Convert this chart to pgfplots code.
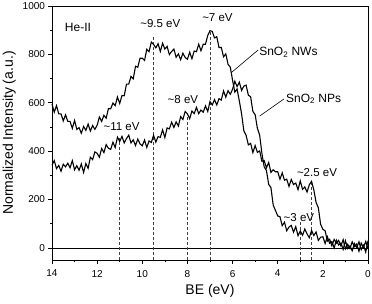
\documentclass[border=0pt]{standalone}
\usepackage{pgfplots}
\pgfplotsset{compat=1.18}
\usepackage{pgfplotstable}
\usepackage{fontspec}
\setmainfont{Liberation Sans}

\pgfplotstableread{
x y
14.0 595
13.9 561
13.8 588
13.7 554
13.6 554
13.5 525
13.4 550
13.3 523
13.2 523
13.1 494
13.0 527
12.9 490
12.8 497
12.7 474
12.6 502
12.5 486
12.4 512
12.3 483
12.2 506
12.1 490
12.0 507
11.9 541
11.8 523
11.7 548
11.6 536
11.5 576
11.4 575
11.3 599
11.2 588
11.1 624
11.0 597
10.9 630
10.8 629
10.7 677
10.6 677
10.5 709
10.4 699
10.3 751
10.2 747
10.1 784
10.0 784
9.9 775
9.8 821
9.7 811
9.6 851
9.5 841
9.4 827
9.3 844
9.2 812
9.1 846
9.0 822
8.9 833
8.8 799
8.7 812
8.6 822
8.5 788
8.4 802
8.3 778
8.2 805
8.1 787
8.0 780
7.9 809
7.8 782
7.7 814
7.6 811
7.5 842
7.4 815
7.3 842
7.2 842
7.1 878
7.0 898
6.9 895
6.8 868
6.7 873
6.6 828
6.5 829
6.4 790
6.3 802
6.2 759
6.1 747
6.0 693
5.9 644
5.8 657
5.7 607
5.6 554
5.5 484
5.4 465
5.3 426
5.2 432
5.1 394
5.0 423
4.9 395
4.8 401
4.7 358
4.6 361
4.5 331
4.4 353
4.3 312
4.2 323
4.1 315
4.0 315
3.9 284
3.8 310
3.7 280
3.6 284
3.5 254
3.4 283
3.3 262
3.2 268
3.1 241
3.0 277
2.9 242
2.8 252
2.7 231
2.6 261
2.5 275
2.4 240
2.3 188
2.2 166
2.1 98
2.0 77
1.9 71
1.8 28
1.7 36
1.6 9
1.5 35
1.4 20
1.3 31
1.2 8
1.1 34
1.0 -4
0.9 15
0.8 -2
0.7 25
0.6 5
0.5 16
0.4 -14
0.3 20
0.2 2
0.1 27
0.0 -5
}\nws

\pgfplotstableread{
x y
14.0 342
13.9 361
13.8 328
13.7 341
13.6 317
13.5 346
13.4 335
13.3 350
13.2 331
13.1 361
13.0 323
12.9 340
12.8 321
12.7 347
12.6 312
12.5 349
12.4 329
12.3 375
12.2 365
12.1 397
12.0 391
11.9 375
11.8 411
11.7 394
11.6 427
11.5 412
11.4 407
11.3 437
11.2 415
11.1 458
11.0 440
10.9 461
10.8 434
10.7 452
10.6 466
10.5 434
10.4 447
10.3 423
10.2 450
10.1 430
10.0 422
9.9 446
9.8 415
9.7 442
9.6 436
9.5 465
9.4 437
9.3 460
9.2 457
9.1 488
9.0 456
8.9 496
8.8 492
8.7 520
8.6 498
8.5 521
8.4 504
8.3 543
8.2 531
8.1 564
8.0 554
7.9 534
7.8 566
7.7 555
7.6 581
7.5 555
7.4 570
7.3 561
7.2 587
7.1 564
7.0 605
6.9 591
6.8 613
6.7 591
6.6 617
6.5 611
6.4 649
6.3 623
6.2 650
6.1 635
6.0 656
5.9 689
5.8 667
5.7 685
5.6 651
5.5 669
5.4 673
5.3 631
5.2 625
5.1 564
5.0 551
4.9 494
4.8 466
4.7 391
4.6 335
4.5 320
4.4 263
4.3 249
4.2 177
4.1 155
4.0 132
3.9 129
3.8 92
3.7 106
3.6 71
3.5 86
3.4 93
3.3 65
3.2 88
3.1 50
3.0 70
2.9 52
2.8 78
2.7 58
2.6 42
2.5 72
2.4 51
2.3 66
2.2 31
2.1 44
2.0 46
1.9 18
1.8 46
1.7 19
1.6 26
1.5 0
1.4 32
1.3 12
1.2 20
1.1 -6
1.0 30
0.9 -3
0.8 8
0.7 -12
0.6 18
0.5 1
0.4 25
0.3 -7
0.2 11
0.1 -17
0.0 30
}\nps

\begin{document}
\begin{tikzpicture}
\begin{axis}[
  scale only axis, width=316pt, height=254pt,
  x dir=reverse, xmin=0, xmax=14, ymin=-50, ymax=1000,
  xtick={0,2,...,14}, minor x tick num=1,
  ytick={0,200,...,1000}, minor y tick num=1,
  tick align=outside, xtick pos=bottom, ytick pos=left,
  major tick length=3.5pt, minor tick length=2pt,
  tick style={black, line width=0.6pt},
  tick label style={font=\fontsize{10}{12}\selectfont},
  xticklabel style={yshift=-3pt},
  /pgf/number format/assume math mode=true,
  /pgf/number format/1000 sep={},
  xlabel={BE (eV)}, ylabel={Normalized Intensity (a.u.)},
  label style={font=\fontsize{14}{16}\selectfont},
  axis line style={line width=0.8pt},
  clip=false,
]
\addplot[black, line width=0.6pt, forget plot] coordinates {(14,0) (0,0)};
\pgfplotsforeachungrouped \xv/\yv in {11/455, 9.5/880, 8/540, 7/900, 3/107, 2.5/268} {
  \edef\tmp{\noexpand\addplot[black!75, line width=0.5pt, dash pattern=on 3pt off 2pt, forget plot] coordinates {(\xv,-50) (\xv,\yv)};}
  \tmp
}
\addplot[black, line width=1.1pt] table[x=x,y=y] {\nws};
\addplot[black, line width=1.1pt] table[x=x,y=y] {\nps};

\node[font=\fontsize{12}{14}\selectfont] at (axis cs:12.85,913) {He-II};
\node[font=\fontsize{11.5}{14}\selectfont] at (axis cs:9.2,926) {\textasciitilde9.5 eV};
\node[font=\fontsize{11.5}{14}\selectfont] at (axis cs:6.67,950) {\textasciitilde7 eV};
\node[font=\fontsize{11.5}{14}\selectfont] at (axis cs:8.2,612) {\textasciitilde8 eV};
\node[font=\fontsize{11.5}{14}\selectfont] at (axis cs:10.92,500) {\textasciitilde11 eV};
\node[font=\fontsize{11.5}{14}\selectfont] at (axis cs:2.26,310) {\textasciitilde2.5 eV};
\node[font=\fontsize{11.5}{14}\selectfont] at (axis cs:3.06,125) {\textasciitilde3 eV};
\node[font=\fontsize{12}{14}\selectfont, anchor=west, inner sep=1pt] at (axis cs:4.87,810) {SnO\textsubscript{2} NWs};
\node[font=\fontsize{12}{14}\selectfont, anchor=west, inner sep=1pt] at (axis cs:3.68,616) {SnO\textsubscript{2} NPs};
\draw[black, line width=0.6pt] (axis cs:4.87,818) -- (axis cs:6.05,725);
\draw[black, line width=0.6pt] (axis cs:3.72,616) -- (axis cs:4.8,545);
\end{axis}
\pgfresetboundingbox
\path[use as bounding box] (-52pt,-43pt) rectangle (320pt,260pt);
\end{tikzpicture}
\end{document}
